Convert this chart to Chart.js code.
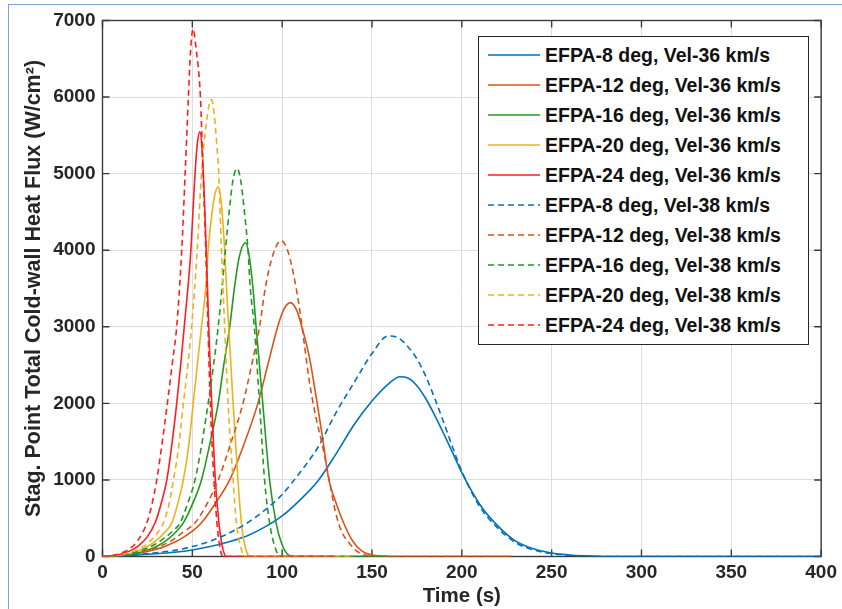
<!DOCTYPE html>
<html>
<head>
<meta charset="utf-8">
<script src="https://cdn.jsdelivr.net/npm/chart.js@4.4.1/dist/chart.umd.min.js"></script>
<style>
  html, body { margin: 0; padding: 0; background: #fff; }
  #wrap { position: relative; width: 842px; height: 609px; overflow: hidden; }
  #frame { position: absolute; left: 8px; top: 4px; width: 900px; height: 700px;
           border-top: 1.5px solid #7aa3d8; border-left: 1.5px solid #7aa3d8; }
  #legend { position: absolute; left: 478px; top: 36px; width: 331px; height: 309px;
            box-sizing: border-box; border: 1px solid #262626; background: #fff; padding-top: 3px;
            font: bold 19.5px "Liberation Sans", Arial, sans-serif; color: #111; }
  #legend .row { height: 30px; display: flex; align-items: center; white-space: nowrap; }
  #legend svg { margin-left: 9px; margin-right: 5px; flex: none; }
</style>
</head>
<body>
<div id="wrap">
  <canvas id="chart" width="842" height="609"></canvas>
  <div id="frame"></div>
  <div id="legend"></div>
</div>
<script>
// heat flux traces, time (s) / flux (W/cm2)
const t8_36 = [0, 10, 20, 30, 40, 50, 60, 70, 80, 90, 100, 110, 120, 130, 140, 150, 160, 165.5, 170, 175, 180, 185, 190, 195, 200, 210, 220, 230, 240, 250, 260, 270, 280, 400];
const q8_36 = [0, 8, 20, 35, 55, 85, 130, 190, 265, 380, 530, 740, 990, 1340, 1720, 2030, 2270, 2347, 2330, 2230, 2060, 1840, 1600, 1350, 1095, 680, 400, 200, 100, 45, 20, 8, 0, 0];

const t12_36 = [0, 5, 10, 15, 20, 25, 30, 35, 40, 45, 50, 55.1, 63, 70.8, 78.5, 86.5, 92, 97.5, 101, 104.6, 108, 111.4, 115, 119.5, 122.5, 126, 130, 134, 138, 142, 146, 150, 155, 160, 228];
const q12_36 = [0, 3, 10, 22, 40, 65, 95, 135, 185, 250, 330, 440, 700, 1000, 1450, 2000, 2500, 3000, 3230, 3316, 3220, 2960, 2620, 2000, 1550, 1000, 700, 450, 250, 120, 50, 20, 5, 0, 0];

const t16_36 = [0, 5, 10, 15, 20, 25, 30, 35, 40, 45, 50, 55.1, 60, 64.4, 67.5, 70.8, 73.5, 76, 79.5, 81.5, 83.7, 85.5, 89.2, 93, 96.6, 100, 103, 106, 160];
const q16_36 = [0, 4, 12, 25, 50, 85, 130, 200, 300, 440, 680, 1000, 1500, 2000, 2500, 3000, 3520, 3900, 4098, 3950, 3520, 3000, 2000, 1000, 440, 150, 30, 0, 0];

const t20_36 = [0, 5, 10, 15, 20, 25, 30, 34, 38.6, 42, 45, 48, 50.5, 53, 55.1, 57.5, 58.8, 61, 62.8, 64.4, 66.2, 68, 69, 70.5, 72.7, 75.4, 77.3, 79.5, 82, 140];
const q20_36 = [0, 5, 17, 40, 75, 130, 210, 300, 440, 700, 1000, 1450, 2000, 2550, 3000, 3520, 4000, 4500, 4750, 4828, 4600, 4000, 3520, 2900, 2000, 1000, 440, 120, 0, 0];

const t24_36 = [0, 5, 10, 15, 20, 25, 29.3, 32.5, 35.8, 38.7, 41.3, 43.5, 45.5, 47.5, 49.2, 51, 52.6, 54.2, 55.6, 57, 58.3, 59.5, 60.8, 62.8, 64.8, 67, 69, 130];
const q24_36 = [0, 8, 30, 70, 140, 260, 440, 680, 1000, 1480, 2000, 2500, 3000, 3500, 4000, 4800, 5350, 5545, 5250, 4500, 3600, 2750, 2000, 1000, 440, 100, 0, 0];

const t8_38 = [0, 10, 20, 30, 40, 50, 60, 70, 80, 90, 100, 110, 120, 130, 140, 150, 159, 165, 170, 175, 180, 185, 190, 195, 200, 210, 220, 230, 240, 250, 260, 270, 280, 400];
const q8_38 = [0, 10, 28, 50, 80, 130, 200, 300, 430, 600, 810, 1100, 1430, 1880, 2270, 2650, 2880, 2850, 2740, 2580, 2350, 2060, 1745, 1420, 1110, 650, 370, 180, 85, 38, 15, 5, 0, 0];

const t12_38 = [0, 5, 10, 15, 20, 25, 30, 35, 40, 45, 51.5, 58, 64.4, 71, 78.2, 83, 87.4, 90.7, 95, 99.4, 103, 107.7, 110.5, 115, 118.5, 122.5, 126.2, 129.8, 133, 137.2, 141, 144.6, 150, 228];
const q12_38 = [0, 5, 15, 30, 50, 80, 115, 165, 230, 320, 440, 680, 1000, 1450, 2000, 2500, 3000, 3520, 3950, 4124, 4000, 3520, 3100, 2310, 1850, 1440, 1000, 570, 330, 180, 80, 30, 0, 0];

const t16_38 = [0, 5, 10, 15, 20, 25, 30, 35, 39, 43.2, 47.5, 51.5, 55.5, 58.8, 61.8, 64.4, 66.5, 68.4, 70.5, 72.5, 74.9, 77, 79, 81, 82.2, 84.5, 87.4, 90.2, 93, 96, 99.4, 160];
const q16_38 = [0, 5, 15, 35, 65, 110, 170, 250, 330, 440, 700, 1000, 1500, 2000, 2500, 3000, 3500, 4000, 4500, 4900, 5068, 4900, 4500, 4000, 3520, 3000, 2000, 1000, 440, 120, 0, 0];

const t20_38 = [0, 5, 10, 15, 20, 25, 30, 33.9, 37, 39.5, 42.5, 45, 47.5, 49.6, 52.7, 55.1, 57.5, 59.5, 60.7, 62.3, 63.7, 64.7, 66.2, 68, 69.9, 72.7, 74.5, 77, 79, 140];
const q20_38 = [0, 6, 20, 50, 95, 170, 290, 440, 680, 1000, 1450, 2000, 2500, 3000, 4000, 5000, 5600, 5920, 5967, 5750, 5350, 5000, 4000, 3000, 2000, 1000, 440, 120, 0, 0];

const t24_38 = [0, 5, 10, 15, 20, 24.7, 27.5, 30.2, 33, 36.1, 39, 41.3, 44.1, 46, 47.8, 49, 50.4, 52, 54.5, 56, 57.5, 58.7, 60, 62, 63.7, 65.5, 67, 130];
const q24_38 = [0, 12, 40, 100, 220, 440, 680, 1000, 1450, 2000, 2550, 3000, 4000, 5000, 6000, 6600, 6890, 6650, 6000, 5000, 4000, 3000, 2000, 1000, 440, 100, 0, 0];

const labels = [
  'EFPA-8 deg, Vel-36 km/s', 'EFPA-12 deg, Vel-36 km/s', 'EFPA-16 deg, Vel-36 km/s',
  'EFPA-20 deg, Vel-36 km/s', 'EFPA-24 deg, Vel-36 km/s',
  'EFPA-8 deg, Vel-38 km/s', 'EFPA-12 deg, Vel-38 km/s', 'EFPA-16 deg, Vel-38 km/s',
  'EFPA-20 deg, Vel-38 km/s', 'EFPA-24 deg, Vel-38 km/s'
];
const times = [t8_36, t12_36, t16_36, t20_36, t24_36, t8_38, t12_38, t16_38, t20_38, t24_38];
const fluxes = [q8_36, q12_36, q16_36, q20_36, q24_36, q8_38, q12_38, q16_38, q20_38, q24_38];
const colors = ['#0072BD', '#D95319', '#229A22', '#EDB120', '#FF1E1E'];

const xTicks = [0, 50, 100, 150, 200, 250, 300, 350, 400];
const yTicks = [0, 1000, 2000, 3000, 4000, 5000, 6000, 7000];

const FONT = '"Liberation Sans", Arial, sans-serif';
const INK = '#262626';
const DASH = [6, 4];

const datasets = labels.map((label, i) => ({
  label,
  data: times[i].map((t, k) => ({ x: t, y: fluxes[i][k] })),
  borderColor: colors[i % 5],
  borderWidth: 1.6,
  borderDash: i >= 5 ? DASH : [],
  pointRadius: 0,
  fill: false,
  cubicInterpolationMode: 'monotone',
  order: 10 - i
}));

// box + inward ticks like the original axes
const axesBox = {
  id: 'axesBox',
  beforeDatasetsDraw(chart) {
    const { ctx, chartArea: a, scales: { x, y } } = chart;
    ctx.save();
    ctx.strokeStyle = '#3a3a3a';
    ctx.lineWidth = 1.4;
    ctx.strokeRect(a.left, a.top, a.right - a.left, a.bottom - a.top);
    ctx.beginPath();
    xTicks.forEach(v => {
      const px = x.getPixelForValue(v);
      ctx.moveTo(px, a.bottom); ctx.lineTo(px, a.bottom - 7);
      ctx.moveTo(px, a.top); ctx.lineTo(px, a.top + 7);
    });
    yTicks.forEach(v => {
      const py = y.getPixelForValue(v);
      ctx.moveTo(a.left, py); ctx.lineTo(a.left + 7, py);
      ctx.moveTo(a.right, py); ctx.lineTo(a.right - 7, py);
    });
    ctx.stroke();
    ctx.restore();
  }
};

new Chart(document.getElementById('chart'), {
  type: 'line',
  data: { datasets },
  options: {
    responsive: false,
    animation: false,
    devicePixelRatio: 1,
    layout: { padding: { top: 20.5, right: 17.5, left: 0, bottom: 0 } },
    plugins: { legend: { display: false }, tooltip: { enabled: false } },
    scales: {
      x: {
        type: 'linear', min: 0, max: 400,
        afterBuildTicks: s => { s.ticks = xTicks.map(v => ({ value: v })); },
        afterFit: s => { s.height = 52.5; },
        grid: { color: '#dedede', lineWidth: 1, drawTicks: false },
        border: { display: false },
        ticks: { color: INK, padding: 5, maxRotation: 0, callback: v => String(v),
                 font: { family: FONT, size: 19, weight: 'bold' } },
        title: { display: true, text: 'Time (s)', color: INK, padding: { top: 0, bottom: 0 },
                 font: { family: FONT, size: 20.5, weight: 'bold' } }
      },
      y: {
        type: 'linear', min: 0, max: 7000,
        afterBuildTicks: s => { s.ticks = yTicks.map(v => ({ value: v })); },
        afterFit: s => { s.width = 102.5; },
        grid: { color: '#dedede', lineWidth: 1, drawTicks: false },
        border: { display: false },
        ticks: { color: INK, padding: 7, callback: v => String(v),
                 font: { family: FONT, size: 19, weight: 'bold' } },
        title: { display: true, text: 'Stag. Point Total Cold-wall Heat Flux (W/cm²)', color: INK,
                 padding: { top: 21, bottom: 0 }, font: { family: FONT, size: 21.5, weight: 'bold' } }
      }
    }
  },
  plugins: [axesBox]
});

// legend box drawn as html, from the same labels / colours
const legend = document.getElementById('legend');
labels.forEach((label, i) => {
  const row = document.createElement('div');
  row.className = 'row';
  const dash = i >= 5 ? ` stroke-dasharray="${DASH.join(' ')}"` : '';
  row.innerHTML = `<svg width="52" height="4"><line x1="0" y1="2" x2="52" y2="2" stroke="${colors[i % 5]}" stroke-width="1.6"${dash}/></svg><span>${label}</span>`;
  legend.appendChild(row);
});
</script>
</body>
</html>
